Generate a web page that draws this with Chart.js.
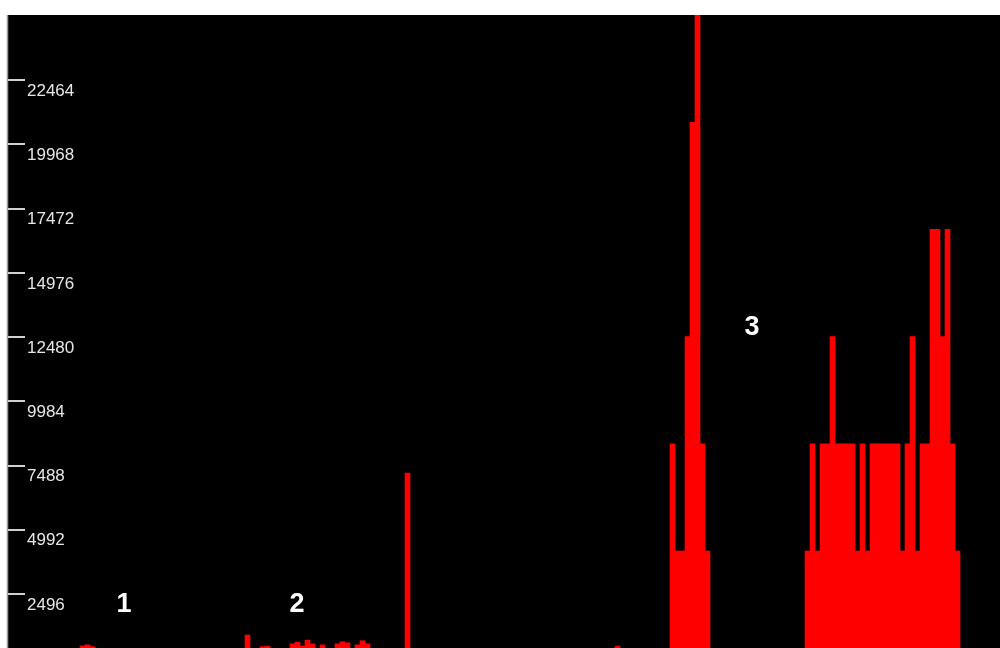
<!DOCTYPE html>
<html>
<head>
<meta charset="utf-8">
<script src="https://cdn.jsdelivr.net/npm/chart.js@4"></script>
<style>
	html, body { margin: 0; padding: 0; background: #fff; }
	canvas { display: block; }
</style>
</head>
<body>
<canvas id="grafico" width="1000" height="648"></canvas>
<script>
// valores, uma barra por amostra (195 amostras)
const valores = [
	0, 0, 0, 0, 0, 0, 0, 0, 0, 0,
	0, 480, 520, 450, 0, 0, 0, 0, 0, 0,
	0, 0, 0, 0, 0, 0, 0, 0, 0, 0,
	0, 0, 0, 0, 0, 0, 0, 0, 0, 0,
	0, 0, 0, 0, 900, 0, 0, 450, 470, 0,
	0, 0, 0, 560, 620, 480, 700, 560, 0, 520,
	0, 0, 560, 640, 600, 0, 520, 680, 560, 0,
	0, 0, 0, 0, 0, 0, 7200, 0, 0, 0,
	0, 0, 0, 0, 0, 0, 0, 0, 0, 0,
	0, 0, 0, 0, 0, 0, 0, 0, 0, 0,
	0, 0, 0, 0, 0, 0, 0, 0, 0, 0,
	0, 0, 0, 0, 0, 0, 0, 0, 460, 0,
	0, 0, 0, 0, 0, 0, 0, 0, 0, 8333,
	4167, 4167, 12500, 20833, 25000, 8333, 4167, 0, 0, 0,
	0, 0, 0, 0, 0, 0, 0, 0, 0, 0,
	0, 0, 0, 0, 0, 0, 4167, 8333, 4167, 8333,
	8333, 12500, 8333, 8333, 8333, 8333, 4167, 8333, 4167, 8333,
	8333, 8333, 8333, 8333, 8333, 4167, 8333, 12500, 4167, 8333,
	8333, 16667, 16667, 12500, 16667, 8333, 4167, 0, 0, 0,
	0, 0, 0, 0, 0
];
const amostras = valores.map((v, i) => String(i));
const ticksY = [2496, 4992, 7488, 9984, 12480, 14976, 17472, 19968, 22464];
const yMin = 397;
const yMax = 25000;

// numeros grandes em branco (posicao em amostra / valor)
const marcadores = [
	{ texto: '1', x: 19.3, y: 2070 },
	{ texto: '2', x: 53.9, y: 2070 },
	{ texto: '3', x: 144.9, y: 12840 }
];

// fundo branco + area preta com a linha cinza da esquerda
const fundo = {
	id: 'fundo',
	beforeDraw(chart) {
		const ctx = chart.ctx;
		ctx.save();
		ctx.fillStyle = '#ffffff';
		ctx.fillRect(0, 0, chart.width, chart.height);
		ctx.fillStyle = '#000000';
		ctx.fillRect(8, chart.chartArea.top, chart.width - 8, chart.height - chart.chartArea.top);
		ctx.strokeStyle = '#9a9a9a';
		ctx.lineWidth = 1.5;
		ctx.beginPath();
		ctx.moveTo(7.5, chart.chartArea.top);
		ctx.lineTo(7.5, chart.height);
		ctx.stroke();
		ctx.restore();
	}
};

const numeros = {
	id: 'numeros',
	afterDatasetsDraw(chart) {
		const ctx = chart.ctx;
		const sx = chart.scales.x;
		const sy = chart.scales.y;
		ctx.save();
		ctx.fillStyle = '#ffffff';
		ctx.font = 'bold 27px "Liberation Sans", Arial, sans-serif';
		ctx.textAlign = 'center';
		ctx.textBaseline = 'middle';
		marcadores.forEach((m) => {
			ctx.fillText(m.texto, sx.getPixelForValue(m.x), sy.getPixelForValue(m.y));
		});
		ctx.restore();
	}
};

const grafico = document.getElementById('grafico').getContext('2d');
const myChart = new Chart(grafico, {
	type: 'bar',
	data: {
		labels: amostras,
		datasets: [{
			data: valores,
			backgroundColor: '#ff0000',
			borderWidth: 0,
			barPercentage: 1,
			categoryPercentage: 1
		}]
	},
	options: {
		responsive: false,
		animation: false,
		layout: { padding: { left: 8, top: 15, right: 0, bottom: 0 } },
		plugins: {
			legend: { display: false },
			tooltip: { enabled: false }
		},
		scales: {
			x: { display: false },
			y: {
				min: yMin,
				max: yMax,
				afterBuildTicks: (scale) => {
					scale.ticks = ticksY.map((v) => ({ value: v }));
				},
				afterFit: (scale) => {
					// sem folga pros rotulos, o grafico vai ate a borda de baixo
					scale.width = 17;
					scale.paddingTop = 0;
					scale.paddingBottom = 0;
				},
				border: { display: false },
				grid: {
					drawOnChartArea: false,
					drawTicks: true,
					tickLength: 17,
					color: '#d0d0d0',
					lineWidth: 2
				},
				ticks: {
					mirror: true,
					padding: 2,
					labelOffset: 11,
					color: '#e6e6e6',
					font: { family: '"Liberation Sans", Arial, sans-serif', size: 17 },
					callback: (v) => String(v)
				}
			}
		}
	},
	plugins: [fundo, numeros]
});
</script>
</body>
</html>
